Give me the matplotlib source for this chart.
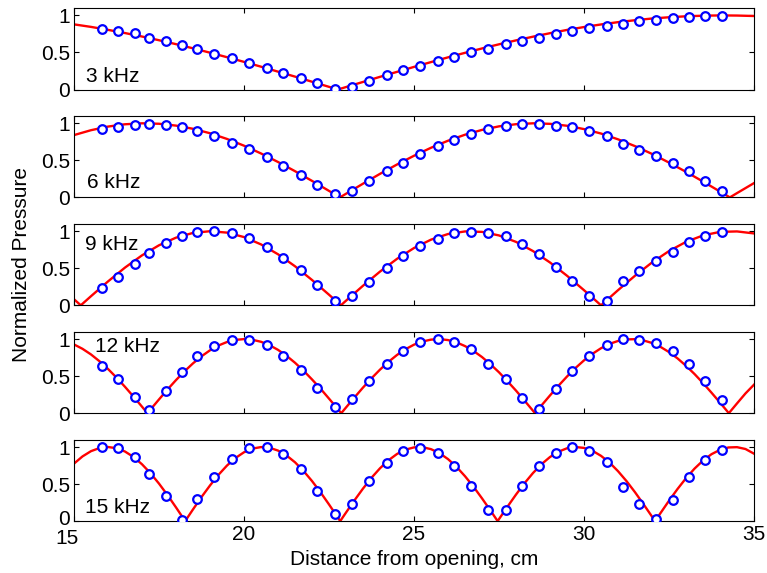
## Normalized pressure vs. distance from the opening, five frequencies stacked

import numpy as np
import matplotlib.pyplot as plt
import matplotlib.transforms as mtransforms

# measured points (same positions in every panel), cm
x_meas = [15.81, 16.30, 16.79, 17.21, 17.71, 18.19, 18.63, 19.13, 19.64, 20.16,
          20.67, 21.16, 21.67, 22.16, 22.68, 23.18, 23.69, 24.20, 24.69, 25.18,
          25.70, 26.19, 26.68, 27.19, 27.70, 28.19, 28.68, 29.17, 29.66, 30.16,
          30.67, 31.16, 31.63, 32.12, 32.61, 33.10, 33.57, 34.05]

meas_3k = [0.82, 0.79, 0.76, 0.70, 0.65, 0.60, 0.54, 0.48, 0.42, 0.36,
           0.29, 0.22, 0.16, 0.09, 0.01, 0.04, 0.12, 0.19, 0.26, 0.32,
           0.38, 0.44, 0.50, 0.55, 0.61, 0.66, 0.70, 0.75, 0.79, 0.83,
           0.86, 0.89, 0.92, 0.94, 0.96, 0.98, 0.99, 0.99]
meas_6k = [0.92, 0.955, 0.98, 0.99, 0.98, 0.95, 0.90, 0.83, 0.74, 0.65,
           0.54, 0.42, 0.30, 0.17, 0.04, 0.08, 0.22, 0.35, 0.47, 0.59,
           0.70, 0.78, 0.86, 0.92, 0.96, 0.99, 0.99, 0.97, 0.95, 0.89,
           0.83, 0.72, 0.64, 0.56, 0.47, 0.35, 0.22, 0.09]
meas_9k = [0.24, 0.38, 0.56, 0.71, 0.84, 0.94, 0.995, 1.0, 0.98, 0.91,
           0.79, 0.64, 0.47, 0.27, 0.06, 0.12, 0.32, 0.50, 0.66, 0.80,
           0.90, 0.97, 0.995, 0.98, 0.93, 0.83, 0.69, 0.52, 0.33, 0.12,
           0.06, 0.33, 0.46, 0.60, 0.72, 0.85, 0.94, 0.995]
meas_12k = [0.64, 0.46, 0.22, 0.04, 0.30, 0.55, 0.77, 0.91, 0.99, 0.99,
            0.92, 0.77, 0.58, 0.34, 0.08, 0.19, 0.44, 0.67, 0.84, 0.955,
            1.0, 0.955, 0.86, 0.66, 0.46, 0.20, 0.05, 0.32, 0.57, 0.77,
            0.92, 1.0, 0.99, 0.95, 0.84, 0.66, 0.44, 0.18]
meas_15k = [1.0, 0.985, 0.86, 0.64, 0.34, 0.02, 0.30, 0.60, 0.84, 0.98,
            1.0, 0.91, 0.70, 0.41, 0.10, 0.235, 0.54, 0.78, 0.95, 0.99,
            0.92, 0.74, 0.47, 0.15, 0.15, 0.47, 0.74, 0.92, 1.0, 0.95,
            0.80, 0.46, 0.23, 0.03, 0.28, 0.59, 0.83, 0.96]

# model curves
x_3k = [15, 15.5, 16, 16.5, 17, 17.5, 18, 18.5, 19, 19.5, 20, 20.5, 21, 21.5,
        22, 22.5, 22.76, 23, 23.5, 24, 24.5, 25, 25.5, 26, 26.5, 27, 27.5, 28,
        28.5, 29, 29.5, 30, 30.5, 31, 31.5, 32, 32.5, 33, 33.5, 34, 34.5, 35]
y_3k = [0.879, 0.845, 0.805, 0.762, 0.715, 0.665, 0.612, 0.556, 0.497, 0.436,
        0.373, 0.308, 0.241, 0.174, 0.105, 0.036, 0.0, 0.033, 0.102, 0.171,
        0.238, 0.305, 0.370, 0.434, 0.495, 0.554, 0.610, 0.663, 0.713, 0.760,
        0.804, 0.843, 0.878, 0.909, 0.935, 0.958, 0.975, 0.988, 0.996, 1.0,
        0.998, 0.992]

x_6k = [15, 15.5, 16, 16.5, 17, 17.5, 18, 18.5, 19, 19.5, 20, 20.5, 21, 21.5,
        22, 22.5, 22.82, 23, 23.5, 24, 24.5, 25, 25.5, 26, 26.5, 27, 27.5, 28,
        28.5, 29, 29.5, 30, 30.5, 31, 31.5, 32, 32.5, 33, 33.5, 34, 34.29,
        34.5, 35]
y_6k = [0.841, 0.907, 0.956, 0.987, 1.0, 0.994, 0.969, 0.926, 0.866, 0.789,
        0.698, 0.593, 0.478, 0.354, 0.223, 0.088, 0.0, 0.049, 0.185, 0.318,
        0.444, 0.562, 0.670, 0.765, 0.846, 0.911, 0.959, 0.988, 1.0, 0.993,
        0.967, 0.922, 0.862, 0.784, 0.692, 0.587, 0.470, 0.345, 0.214, 0.079,
        0.0, 0.058, 0.193]

x_9k = [15, 15.2, 15.5, 16, 16.5, 17, 17.5, 18, 18.5, 19, 19.5, 20, 20.5, 21,
        21.5, 22, 22.5, 22.85, 23, 23.5, 24, 24.5, 25, 25.5, 26, 26.5, 27,
        27.5, 28, 28.5, 29, 29.5, 30, 30.5, 31, 31.5, 32, 32.5, 33, 33.5, 34,
        34.5, 35]
y_9k = [0.082, 0.0, 0.123, 0.322, 0.509, 0.674, 0.810, 0.913, 0.977, 1.0,
        0.981, 0.921, 0.822, 0.689, 0.527, 0.342, 0.143, 0.0, 0.062, 0.264,
        0.455, 0.627, 0.773, 0.886, 0.962, 0.997, 0.991, 0.943, 0.856, 0.732,
        0.578, 0.399, 0.204, 0.0, 0.204, 0.399, 0.578, 0.732, 0.856, 0.943,
        0.991, 0.997, 0.970]

x_12k = [15, 15.25, 15.5, 15.75, 16, 16.25, 16.5, 16.75, 17, 17.16,
         17.25, 17.5, 17.75, 18, 18.25, 18.5, 18.75, 19, 19.25, 19.5, 19.75,
         20, 20.25, 20.5, 20.75, 21, 21.25, 21.5, 21.75, 22, 22.25, 22.5, 22.75,
         22.86,
         23, 23.25, 23.5, 23.75, 24, 24.25, 24.5, 24.75, 25, 25.25, 25.5, 25.75,
         26, 26.25, 26.5, 26.75, 27, 27.25, 27.5, 27.75, 28, 28.25, 28.5,
         28.56,
         28.75, 29, 29.25, 29.5, 29.75, 30, 30.25, 30.5, 30.75, 31, 31.25, 31.5,
         31.75, 32, 32.25, 32.5, 32.75, 33, 33.25, 33.5, 33.75, 34,
         34.26, 34.5, 34.75, 35]
y_12k = [0.928, 0.869, 0.793, 0.701, 0.597, 0.481, 0.356, 0.224, 0.088, 0.0,
         0.050, 0.186, 0.320, 0.447, 0.565, 0.673, 0.768, 0.849, 0.914, 0.961,
         0.990, 1.0, 0.991, 0.964, 0.918, 0.855, 0.775, 0.681, 0.574, 0.456,
         0.331, 0.197, 0.061,
         0.0,
         0.077, 0.213, 0.346, 0.471, 0.588, 0.693, 0.786, 0.864, 0.925, 0.968,
         0.993, 1.0, 0.987, 0.956, 0.906, 0.840, 0.758, 0.660, 0.552, 0.431,
         0.305, 0.170, 0.033,
         0.0,
         0.105, 0.240, 0.371, 0.495, 0.610, 0.713, 0.802, 0.877, 0.935, 0.975,
         0.996, 0.999, 0.982, 0.948, 0.895, 0.825, 0.740, 0.640, 0.529, 0.407,
         0.277, 0.143,
         0.0, 0.132, 0.267, 0.385]

x_15k = [15, 15.25, 15.5, 15.75, 16, 16.25, 16.5, 16.75, 17, 17.25, 17.5, 17.75,
         18, 18.27,
         18.5, 18.75, 19, 19.25, 19.5, 19.75, 20, 20.25, 20.5, 20.75, 21, 21.25,
         21.5, 21.75, 22, 22.25, 22.5, 22.75, 22.83,
         23, 23.25, 23.5, 23.75, 24, 24.25, 24.5, 24.75, 25, 25.25, 25.5, 25.75,
         26, 26.25, 26.5, 26.75, 27, 27.25, 27.46,
         27.5, 27.75, 28, 28.25, 28.5, 28.75, 29, 29.25, 29.5, 29.75, 30, 30.25,
         30.5, 30.75, 31, 31.25, 31.5, 31.75, 32, 32.09,
         32.25, 32.5, 32.75, 33, 33.25, 33.5, 33.75, 34, 34.25, 34.5, 34.75, 35]
y_15k = [0.776, 0.873, 0.944, 0.986, 1.0, 0.984, 0.939, 0.866, 0.767, 0.646,
         0.506, 0.351, 0.185, 0.0,
         0.158, 0.325, 0.481, 0.625, 0.750, 0.852, 0.929, 0.979, 0.999, 0.990,
         0.952, 0.886, 0.794, 0.677, 0.541, 0.389, 0.225, 0.055, 0.0,
         0.115, 0.281, 0.439, 0.585, 0.713, 0.821, 0.906, 0.964, 0.995, 0.998,
         0.971, 0.917, 0.837, 0.732, 0.606, 0.464, 0.307, 0.142, 0.0,
         0.027, 0.195, 0.358, 0.511, 0.649, 0.768, 0.865, 0.937, 0.983, 1.0,
         0.988, 0.949, 0.881, 0.790, 0.674, 0.540, 0.390, 0.228, 0.061, 0.0,
         0.108, 0.275, 0.433, 0.579, 0.708, 0.817, 0.903, 0.962, 0.994, 0.998,
         0.973, 0.910]

labels = ['3 kHz', '6 kHz', '9 kHz', '12 kHz', '15 kHz']
label_pos = [(15.35, 0.10), (15.38, 0.13), (15.32, 0.75), (15.62, 0.82), (15.32, 0.11)]

panels = [(x_3k, y_3k, meas_3k), (x_6k, y_6k, meas_6k), (x_9k, y_9k, meas_9k),
          (x_12k, y_12k, meas_12k), (x_15k, y_15k, meas_15k)]

plt.rcParams.update({
    'font.family': ['Liberation Sans', 'DejaVu Sans'],
    'font.size': 15,
    'axes.linewidth': 0.8,
    'xtick.direction': 'in',
    'ytick.direction': 'in',
    'xtick.major.size': 3.6,
    'ytick.major.size': 3.6,
    'xtick.major.width': 0.8,
    'ytick.major.width': 0.8,
    'xtick.major.pad': 3,
    'ytick.major.pad': 3,
    'xtick.top': True,
    'ytick.right': True,
})

W, H = 767, 573
fig = plt.figure(figsize=(W / 100, H / 100), dpi=100)

left, width = 74 / W, 680 / W
panel_h, gap = 81.5, 26.4
top = 8

axes = []
for i, (xc, yc, ym) in enumerate(panels):
    y_top = top + i * (panel_h + gap)
    ax = fig.add_axes([left, 1 - (y_top + panel_h) / H, width, panel_h / H])
    ax.plot(xc, yc, color='red', linewidth=1.7, zorder=2)
    ax.plot(x_meas, ym, linestyle='none', marker='o', markersize=6.2,
            markeredgewidth=1.6, markeredgecolor='blue', markerfacecolor='white',
            zorder=3)
    ax.set_xlim(15, 35)
    ax.set_ylim(0, 1.1)
    ax.set_yticks([0, 0.5, 1])
    ax.set_yticklabels(['0', '0.5', '1'])
    ax.set_xticks([15, 20, 25, 30, 35])
    if i < 4:
        ax.set_xticklabels([])
    lx, ly = label_pos[i]
    ax.text(lx, ly, labels[i], ha='left', va='baseline')
    axes.append(ax)

# corner labels of the bottom panel: "15" a bit left/down, "0" a bit up
first = axes[-1].get_xticklabels()[0]
first.set_transform(first.get_transform() +
                    mtransforms.ScaledTranslation(-7 / 100, -4 / 100, fig.dpi_scale_trans))
zero = axes[-1].get_yticklabels()[0]
zero.set_transform(zero.get_transform() +
                   mtransforms.ScaledTranslation(0, 4 / 100, fig.dpi_scale_trans))

axes[-1].set_xlabel('Distance from opening, cm', labelpad=1)
fig.text(22 / W, 1 - 264 / H, 'Normalized Pressure', rotation=90,
         ha='center', va='center')

fig.savefig('out.png', dpi=100)
